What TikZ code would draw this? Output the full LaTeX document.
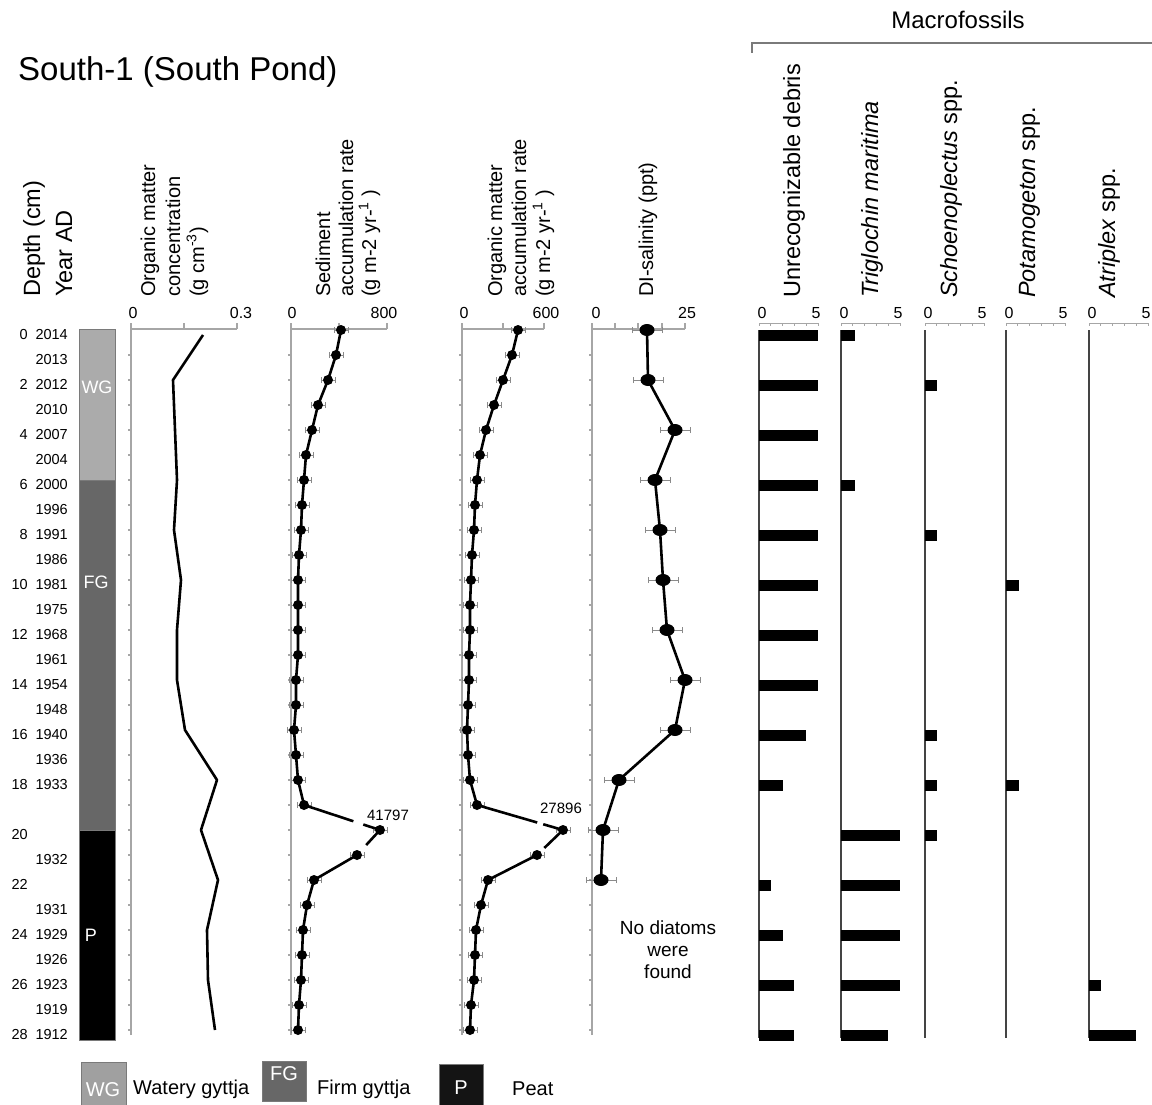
\documentclass[tikz,border=0pt]{standalone}
\usepackage{fontspec}
\setmainfont{Liberation Sans}
\usetikzlibrary{calc}

\definecolor{wgcol}{HTML}{ABABAB}
\definecolor{wgleg}{HTML}{A0A0A0}
\definecolor{fgcol}{HTML}{676767}
\definecolor{pcol}{HTML}{141414}
\definecolor{edgegray}{HTML}{7A7A7A}
\definecolor{axisgray}{HTML}{A6A6A6}
\definecolor{errgray}{HTML}{8A8A8A}
\definecolor{basegray}{HTML}{444444}

\tikzset{
  axisline/.style={draw=axisgray, line width=1.1pt},
  errbar/.style={draw=errgray, line width=0.9pt},
  dataline/.style={line width=2.6pt, line join=round},
  headline/.style={rotate=90, anchor=base west, inner sep=0pt, font=\fontsize{20}{24}\selectfont},
  bighead/.style={headline, font=\fontsize{23.5}{28}\selectfont},
  ticklab/.style={inner sep=0pt, font=\fontsize{16}{18}\selectfont},
  depthlab/.style={anchor=east, inner sep=0pt, font=\fontsize{14.5}{16}\selectfont},
  collab/.style={text=white, inner sep=0pt, font=\fontsize{18}{20}\selectfont},
  legtext/.style={anchor=west, inner sep=0pt, font=\fontsize{20}{24}\selectfont},
  macroaxis/.style={draw=axisgray, line width=1pt}
}

\newcommand{\errbarat}[2]{%
  \draw[errbar] ([xshift=-#2]#1) -- ([xshift=#2]#1)
    ([xshift=-#2,yshift=-3pt]#1) -- ([xshift=-#2,yshift=3pt]#1)
    ([xshift=#2,yshift=-3pt]#1) -- ([xshift=#2,yshift=3pt]#1);}

\begin{document}
\begin{tikzpicture}[x=1pt, y=-1pt]
\useasboundingbox (0,0) rectangle (1152,1105);

% titles
\node[anchor=west, inner sep=0pt, font=\fontsize{33}{38}\selectfont] (title) at (18,72) {South-1 (South Pond)};
\node[font=\fontsize{24}{28}\selectfont] (macro) at (958,20) {Macrofossils};
\draw[edgegray, line width=1.2pt] (752,53) -- (752,43) -- (1152,43);

% column headers
\node[bighead] (hdepth) at (40,297) {Depth (cm)};
\node[bighead] (hyear) at (72,297) {Year AD};
\node[headline] (omc1) at (155,297) {Organic matter};
\node[headline] (omc2) at (180,297) {concentration};
\node[headline] (omc3) at (204,297) {(g cm\textsuperscript{-3})};
\node[headline] (sed1) at (330,297) {Sediment};
\node[headline] (sed2) at (353,297) {accumulation rate};
\node[headline] (sed3) at (376,297) {(g m-2 yr-\textsuperscript{1} )};
\node[headline] (omr1) at (502,297) {Organic matter};
\node[headline] (omr2) at (526,297) {accumulation rate};
\node[headline] (omr3) at (550,297) {(g m-2 yr-\textsuperscript{1} )};
\node[headline] (sal1) at (653,297) {DI-salinity (ppt)};
\node[bighead] (mac1) at (800,298) {Unrecognizable debris};
\node[bighead] (mac2) at (878,298) {\textit{Triglochin maritima}};
\node[bighead] (mac3) at (957,298) {\textit{Schoenoplectus} spp.};
\node[bighead] (mac4) at (1035,298) {\textit{Potamogeton} spp.};
\node[bighead] (mac5) at (1115,298) {\textit{Atriplex} spp.};

\begin{scope}[y=-25pt, yshift=-330pt]
% depth and year scale
\foreach \d in {0,2,...,28} \node[depthlab] (dep\d) at (28,\d+0.18) {\d};
\foreach \d/\yr in {0/2014,1/2013,2/2012,3/2010,4/2007,5/2004,6/2000,7/1996,8/1991,9/1986,10/1981,11/1975,12/1968,13/1961,14/1954,15/1948,16/1940,17/1936,18/1933,21/1932,23/1931,24/1929,25/1926,26/1923,27/1919,28/1912}
  \node[depthlab] (yr\d) at (68,\d+0.18) {\yr};

% lithology
\filldraw[fill=wgcol, draw=edgegray] (79,-0.04) rectangle (115,6);
\filldraw[fill=fgcol, draw=edgegray] (79,6) rectangle (115,20);
\filldraw[fill=black, draw=edgegray] (79,20) rectangle (115,28.4);
\node[collab] (wg) at (97,2.3) {WG};
\node[collab] (fg) at (96,10.1) {FG};
\node[collab] (p) at (91,24.2) {P};

% axes
\foreach \ax/\len in {131/106, 291/96, 462/82, 592/93} {
  \draw[axisline] (\ax,28.2) -- (\ax,-0.04) -- ++(\len pt,0pt);
  \foreach \d in {1,...,28} \draw[axisline] (\ax,\d) -- ++(-3.5pt,0pt);
}
\foreach \tx in {131,184,237,291,339,387,462,503,544,592,615,638,662,685}
  \draw[axisline] (\tx,-0.04) -- ++(0pt,6pt);
\foreach \tx/\tl [count=\i] in {133/0, 241/0.3, 292/0, 384/800, 464/0, 546/600, 596/0, 687/25}
  \node[ticklab] (tick\i) at (\tx,-0.68) {\tl};

% organic matter concentration
\draw[dataline] plot coordinates {(203,0.2) (173,2) (175,4) (177,6) (174,8) (181,10) (177,12) (177,14) (185,16) (217,18) (201,20) (218,22) (207,24) (208,26) (215,28)};

% sediment accumulation rate
\foreach \d/\x in {0/341,1/336,2/328,3/318,4/312,5/306,6/304,7/302,8/301,9/299,10/298,11/298,12/298,13/298,14/296,15/296,16/294,17/296,18/298,19/304,20/380,21/357,22/314,23/307,24/303,25/302,26/301,27/299,28/298} {
  \coordinate (sed\d) at (\x,\d);
  \errbarat{sed\d}{7pt}
}
\draw[dataline] (sed0) \foreach \d in {1,...,19} {-- (sed\d)} -- ($(sed19)!0.65!(sed20)$);
\draw[dataline] ($(sed19)!0.78!(sed20)$) -- (sed20) -- ($(sed20)!0.6!(sed21)$);
\draw[dataline] (sed21) \foreach \d in {22,...,28} {-- (sed\d)};
\foreach \d in {0,...,28} \fill (sed\d) circle (5pt);
\node[inner sep=0pt, font=\fontsize{15}{18}\selectfont] (sedmax) at (388,19.4) {41797};

% organic matter accumulation rate
\foreach \d/\x in {0/518,1/512,2/503,3/494,4/486,5/480,6/477,7/475,8/474,9/472,10/471,11/470,12/470,13/469,14/469,15/468,16/467,17/468,18/470,19/477,20/563,21/537,22/488,23/481,24/476,25/475,26/474,27/471,28/470} {
  \coordinate (omr\d) at (\x,\d);
  \errbarat{omr\d}{7pt}
}
\draw[dataline] (omr0) \foreach \d in {1,...,19} {-- (omr\d)} -- ($(omr19)!0.7!(omr20)$);
\draw[dataline] ($(omr19)!0.77!(omr20)$) -- (omr20) -- ($(omr20)!0.72!(omr21)$);
\draw[dataline] (omr21) \foreach \d in {22,...,28} {-- (omr\d)};
\foreach \d in {0,...,28} \fill (omr\d) circle (5pt);
\node[inner sep=0pt, font=\fontsize{15}{18}\selectfont] (ommax) at (561,19.12) {27896};

% DI-salinity
\foreach \d/\x in {0/647,2/648,4/675,6/655,8/660,10/663,12/667,14/685,16/675,18/619,20/603,22/601} {
  \coordinate (sal\d) at (\x,\d);
  \errbarat{sal\d}{15pt}
}
\draw[dataline] (sal0) \foreach \d in {2,4,...,22} {-- (sal\d)};
\foreach \d in {0,2,...,22} \fill (sal\d) ellipse (7.5pt and 6pt);
\node[align=center, font=\fontsize{19}{22}\selectfont] (nodiat) at (668,24.8) {No diatoms\\were\\found};

% macrofossil axes
\foreach \cx [count=\i] in {759,841,925,1006,1089} {
  \draw[macroaxis] (\cx,-0.28) -- ++(59pt,0pt);
  \foreach \u in {0,...,5} \draw[macroaxis] (\cx+\u*11.8,-0.28) -- ++(0pt,-3pt);
  \node[ticklab] (mzero\i) at (\cx+3,-0.68) {0};
  \node[ticklab] (mfive\i) at (\cx+57,-0.68) {5};
  \draw[basegray, line width=1.3pt] (\cx,0) -- (\cx,28.3);
}
% macrofossil bars
\foreach \d/\v in {0/5,2/5,4/5,6/5,8/5,10/5,12/5,14/5,16/4,18/2,22/1,24/2,26/3,28/3}
  \fill (759,\d-0.02) rectangle (759+\v*11.8,\d+0.42);
\foreach \d/\v in {0/1.2,6/1.2,20/5,22/5,24/5,26/5,28/4}
  \fill (841,\d-0.02) rectangle (841+\v*11.8,\d+0.42);
\foreach \d/\v in {2/1,8/1,16/1,18/1,20/1}
  \fill (925,\d-0.02) rectangle (925+\v*11.8,\d+0.42);
\foreach \d/\v in {10/1.1,18/1.1}
  \fill (1006,\d-0.02) rectangle (1006+\v*11.8,\d+0.42);
\foreach \d/\v in {26/1,28/4}
  \fill (1089,\d-0.02) rectangle (1089+\v*11.8,\d+0.42);
\end{scope}

% legend
\filldraw[fill=wgleg, draw=edgegray] (81,1062) rectangle (126,1107);
\node[collab, font=\fontsize{20}{24}\selectfont] (wgkey) at (103,1090) {WG};
\node[legtext] (wgtext) at (133,1089) {Watery gyttja};
\filldraw[fill=fgcol, draw=edgegray] (262,1061) rectangle (306,1101);
\node[collab, font=\fontsize{20}{24}\selectfont] (fgkey) at (284,1074) {FG};
\node[legtext] (fgtext) at (317,1089) {Firm gyttja};
\filldraw[fill=pcol, draw=edgegray] (439,1064) rectangle (483,1107);
\node[collab, font=\fontsize{20}{24}\selectfont] (pkey) at (461,1088) {P};
\node[legtext] (ptext) at (512,1089) {Peat};
\end{tikzpicture}
\end{document}
